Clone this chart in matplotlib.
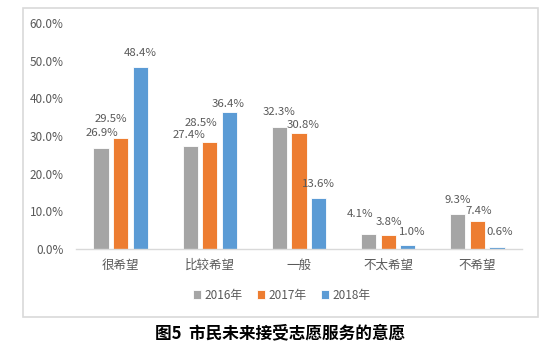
import matplotlib
matplotlib.use("Agg")
import matplotlib.pyplot as plt
from matplotlib.patches import Rectangle
from matplotlib.ticker import FuncFormatter
import numpy as np

plt.rcParams['font.family'] = ['Noto Sans CJK SC', 'DejaVu Sans']

categories = ["很希望", "比较希望", "一般", "不太希望", "不希望"]
series_names = ["2016年", "2017年", "2018年"]
v2016 = [26.9, 27.4, 32.3, 4.1, 9.3]
v2017 = [29.5, 28.5, 30.8, 3.8, 7.4]
v2018 = [48.4, 36.4, 13.6, 1.0, 0.6]
title = "图5  市民未来接受志愿服务的意愿"

colors = ["#A5A5A5", "#ED7D31", "#5B9BD5"]
# label offsets (pixels) relative to bar center / bar top
label_off = [
    [(1, 15), (-1.5, 11), (0, 15), (-8.5, 20), (-0.5, 14)],
    [(-10, 19), (-9, 19), (4, 8), (0.5, 13), (1, 10)],
    [(0, 14), (-1, 8), (0, 14), (4, 13), (3, 15)],
]

fig = plt.figure(figsize=(5.55, 3.52), dpi=100)
ax = fig.add_axes([76/555, 1-249/352, (522-76)/555, (249-23)/352])

x = np.arange(len(categories))
width = 0.17
step = 0.22
txt = "#595959"
for i, (vals, name) in enumerate(zip([v2016, v2017, v2018], series_names)):
    pos = x + (i - 1) * step
    bars = ax.bar(pos, vals, width, color=colors[i], edgecolor="white",
                  linewidth=0.6, label=name, zorder=2)
    for j, (b, v) in enumerate(zip(bars, vals)):
        dx, dy = label_off[i][j]
        ax.annotate(f"{v:.1f}%", (b.get_x() + b.get_width()/2, v),
                    xytext=(dx, dy), textcoords="offset pixels",
                    ha="center", va="center", fontsize=8.2, color=txt)

ax.set_xlim(-0.5, len(categories) - 0.5)
ax.set_ylim(0, 60)
ax.set_yticks(np.arange(0, 61, 10))
ax.yaxis.set_major_formatter(FuncFormatter(lambda v, p: f"{v:.1f}%"))
ax.set_xticks(x)
ax.set_xticklabels(categories, fontsize=9, color=txt)
ax.tick_params(axis="y", length=0, pad=9, labelsize=8.5, labelcolor=txt)
ax.tick_params(axis="x", length=0, pad=7)
for s in ["top", "right", "left"]:
    ax.spines[s].set_visible(False)
ax.spines["bottom"].set_color("#D9D9D9")
ax.spines["bottom"].set_linewidth(1)
ax.set_facecolor("none")

leg = fig.legend(loc="center", bbox_to_anchor=(282/555, 1-295/352), ncol=3,
                 frameon=False, fontsize=8.5, handlelength=0.7, handleheight=0.7,
                 handletextpad=0.3, columnspacing=1.2)
for t in leg.get_texts():
    t.set_color(txt)

fig.patches.append(Rectangle((23/555, 1-317/352), (538-23)/555, (317-8)/352,
                             transform=fig.transFigure, fill=False,
                             edgecolor="#D9D9D9", linewidth=1.2, zorder=0))

fig.text(280/555, 1-333/352, title, ha="center", va="center",
         fontsize=12, fontweight="bold", color="black")

fig.savefig("out.png", dpi=100)
